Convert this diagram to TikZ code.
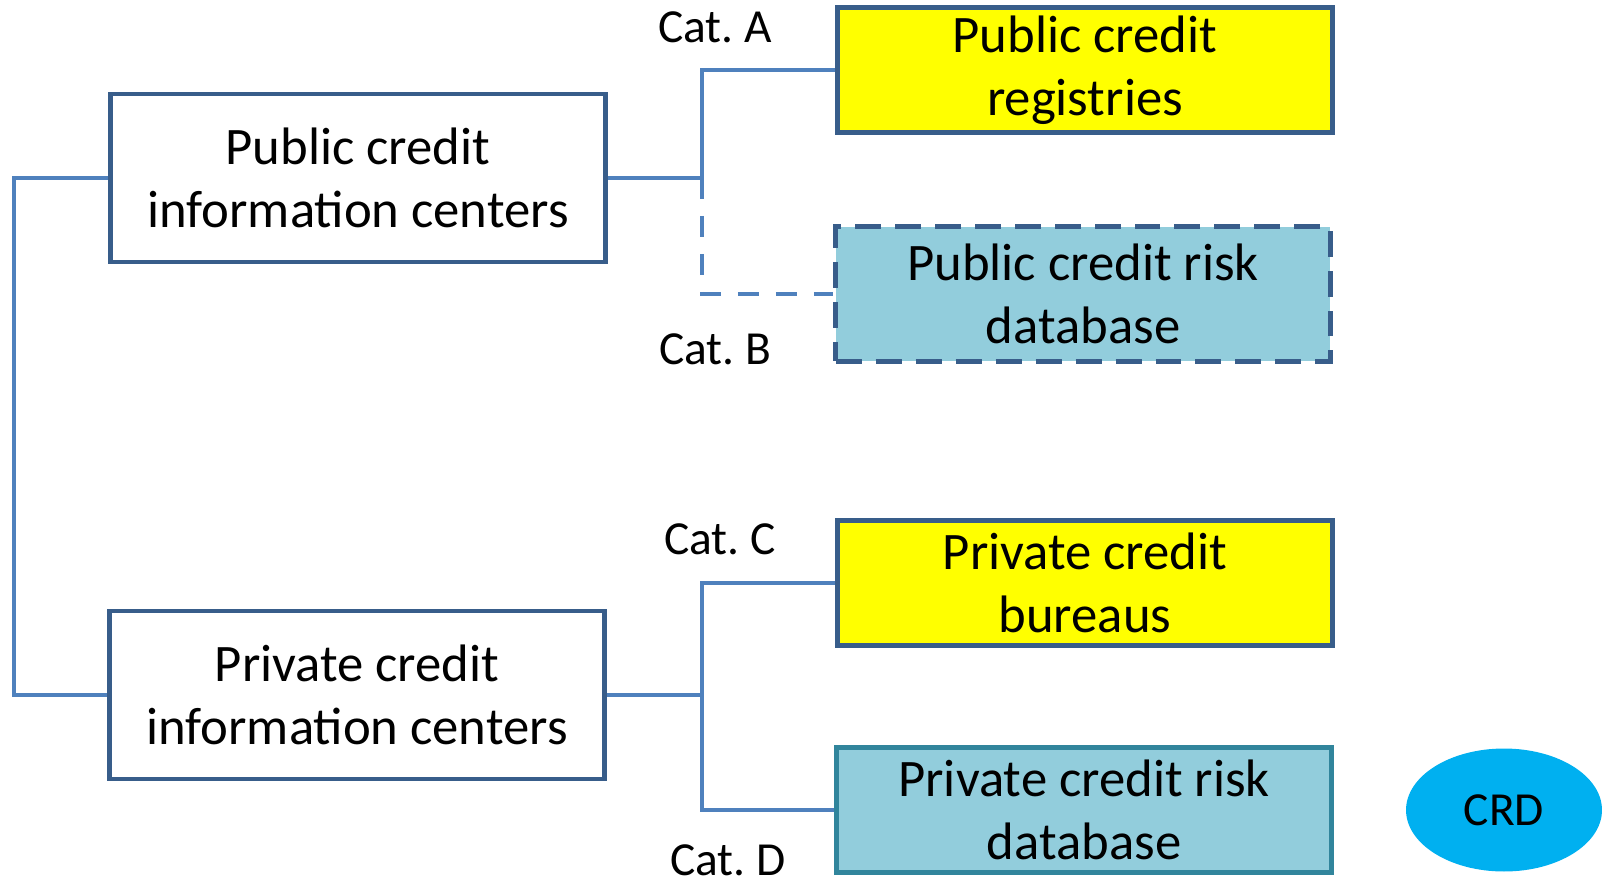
\documentclass[tikz,border=0pt]{standalone}
\usepackage{fontspec}
\setmainfont{Carlito}
\usepackage{xcolor}
\usepackage{tikz}
\usetikzlibrary{shapes.geometric}

\definecolor{linkblue}{HTML}{4F81BD}
\definecolor{boxblue}{HTML}{385D8A}
\definecolor{boxteal}{HTML}{31859C}
\definecolor{regyellow}{HTML}{FFFF00}
\definecolor{riskblue}{HTML}{92CDDC}
\definecolor{crdblue}{HTML}{00B0F0}

\frenchspacing
\begin{document}
\begin{tikzpicture}[x=0.02cm,y=-0.02cm,
    box/.style={draw=boxblue,line width=2.8pt,align=center,inner sep=0pt,
        minimum width=9.9cm,font=\fontsize{30}{36}\selectfont},
    link/.style={draw=linkblue,line width=2.2pt},
    catlabel/.style={inner sep=0pt,font=\fontsize{27}{32}\selectfont}]
    \useasboundingbox (0,0) rectangle (1602,883);

    % centers on the left
    \node[box,minimum height=3.36cm] (pubc) at (358,178) {Public credit\\information centers};
    \node[box,minimum height=3.36cm] (privc) at (357,695) {Private credit\\information centers};

    % categories on the right
    \node[box,fill=regyellow,minimum height=2.5cm] (pcr) at (1085,70) {Public credit\\registries};
    \node[box,fill=riskblue,minimum height=2.7cm,dash pattern=on 0.52cm off 0.28cm] (pcrd) at (1083,294) {Public credit risk\\database};
    \node[box,fill=regyellow,minimum height=2.5cm] (pcb) at (1085,583) {Private credit\\bureaus};
    \node[box,draw=boxteal,fill=riskblue,minimum height=2.5cm] (prd) at (1084,810) {Private credit risk\\database};

    \node[ellipse,fill=crdblue,minimum width=3.92cm,minimum height=2.46cm,font=\fontsize{27}{32}\selectfont] (crd) at (1504,810) {CRD};

    \node[catlabel] (catA) at (715,27) {Cat. A};
    \node[catlabel] (catB) at (715,349) {Cat. B};
    \node[catlabel] (catC) at (720,539) {Cat. C};
    \node[catlabel] (catD) at (728,860) {Cat. D};

    \coordinate (jleft) at (14,178);
    \coordinate (jpub) at (702,178);
    \coordinate (jpriv) at (702,695);

    \draw[link] (pubc.west) -- (jleft) |- (privc.west);
    \draw[link] (pubc.east) -- (jpub) |- (pcr.west);
    \draw[link,dash pattern=on 0.42cm off 0.34cm] (jpub) |- (pcrd.west);
    \draw[link] (privc.east) -- (jpriv) |- (pcb.west);
    \draw[link] (jpriv) |- (prd.west);
\end{tikzpicture}
\end{document}
